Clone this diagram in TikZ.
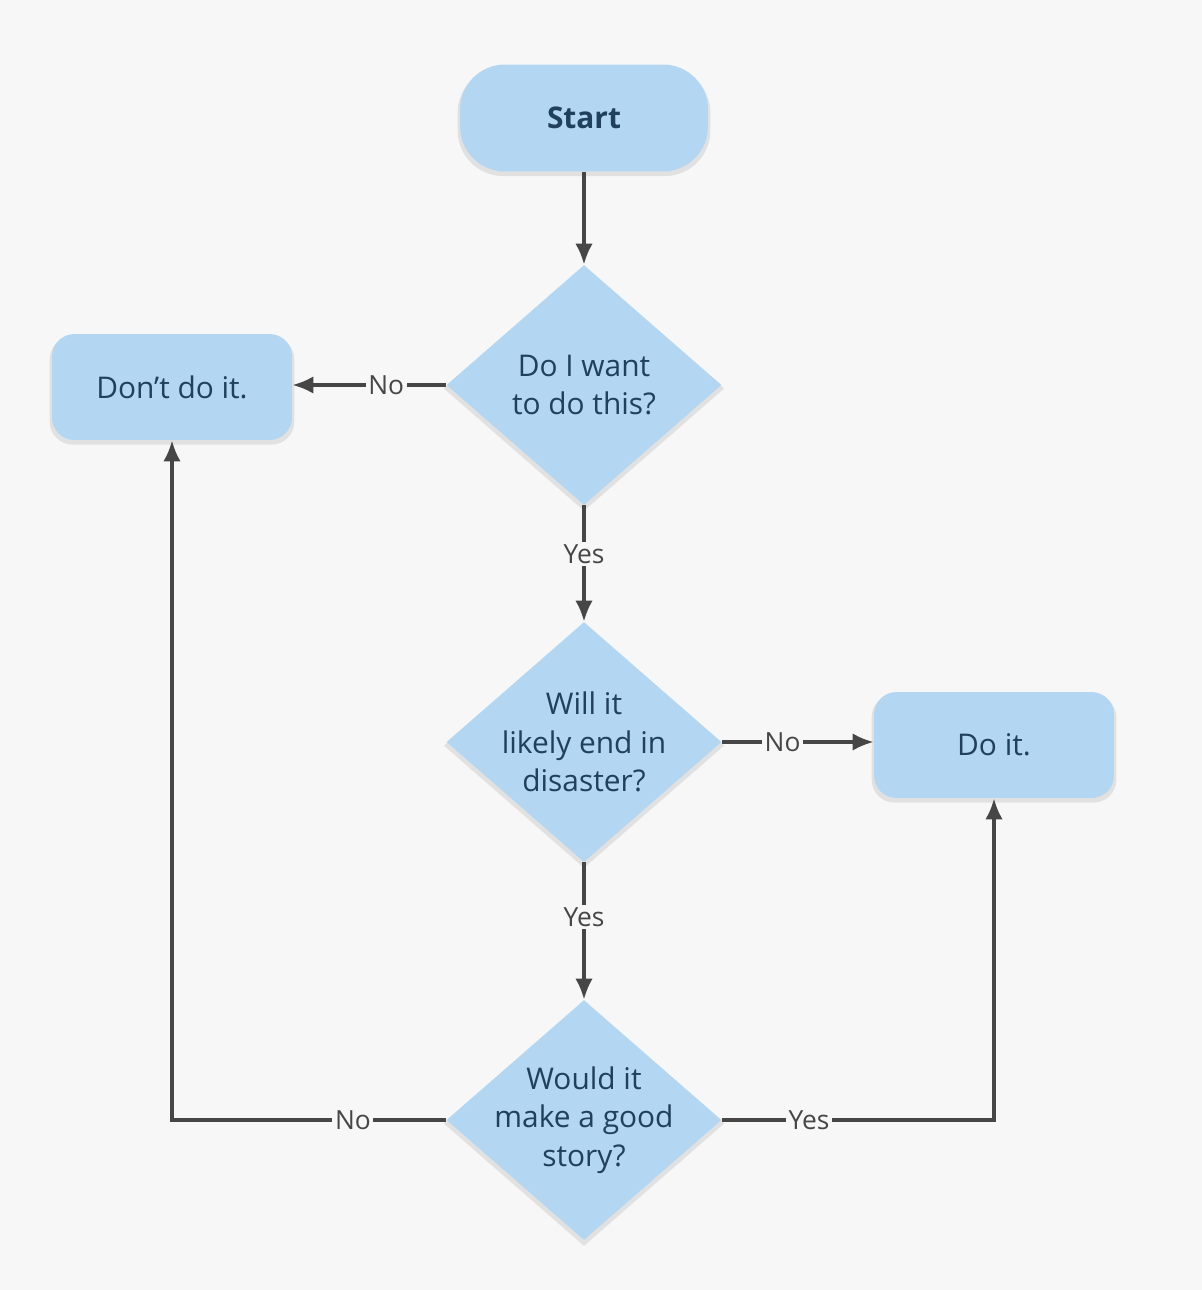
\documentclass[tikz,border=0pt]{standalone}
\usepackage{fontspec}
\setmainfont{Open Sans}
\usetikzlibrary{shapes.geometric,arrows.meta,shadows}
\definecolor{boxblue}{HTML}{B3D6F2}
\definecolor{inkblue}{HTML}{213F5E}
\definecolor{linegray}{HTML}{464646}
\definecolor{paper}{HTML}{F7F7F7}

\begin{document}
\begin{tikzpicture}[x=0.02cm, y=-0.02cm,
  every node/.append style={font=\fontsize{17}{22}\selectfont, text=inkblue, align=center},
  shade/.style={drop shadow={opacity=0.18, shadow xshift=0pt, shadow yshift=-2pt, shadow scale=1.02}},
  terminal/.style={rectangle, rounded corners=0.9cm, fill=boxblue, shade, minimum width=4.96cm, minimum height=2.14cm},
  action/.style={rectangle, rounded corners=0.45cm, fill=boxblue, shade, minimum width=4.8cm, minimum height=2.12cm},
  decision/.style={diamond, fill=boxblue, shade, inner sep=-4pt, shape aspect=1.17, minimum width=5.5cm, minimum height=4.8cm},
  answer/.style={font=\fontsize{15}{18}\selectfont, text=linegray, fill=paper, inner sep=1.5pt},
  flow/.style={draw=linegray, line width=2pt, -{Latex[length=12pt,width=10pt]}}]
\fill[paper] (0,0) rectangle (1202,1290);
\useasboundingbox (0,0) rectangle (1202,1290);
% shapes
\node[terminal] (start) at (584,118) {\textbf{Start}};
\node[decision] (q1) at (584,385) {Do I want\\to do this?};
\node[action] (dont) at (172,387) {Don’t do it.};
\node[decision] (q2) at (584,742) {Will it\\likely end in\\disaster?};
\node[action] (doit) at (994,745) {Do it.};
\node[decision] (q3) at (584,1120) {Would it\\make a good\\story?};
% connectors
\draw[flow] (start) -- (q1);
\draw[flow] (q1.west) -- node[answer, pos=0.39]{No} (dont.east |- q1.west);
\draw[flow] (q1) -- node[answer, pos=0.42]{Yes} (q2);
\draw[flow] (q2) -- node[answer, pos=0.4]{No} (doit.west |- q2.east);
\draw[flow] (q2) -- node[answer, pos=0.4]{Yes} (q3);
\draw[flow] (q3.west) -- node[answer, pos=0.34]{No} (dont.south |- q3.west) -- (dont.south);
\draw[flow] (q3.east) -- node[answer, pos=0.32]{Yes} (doit.south |- q3.east) -- (doit.south);
\end{tikzpicture}
\end{document}
